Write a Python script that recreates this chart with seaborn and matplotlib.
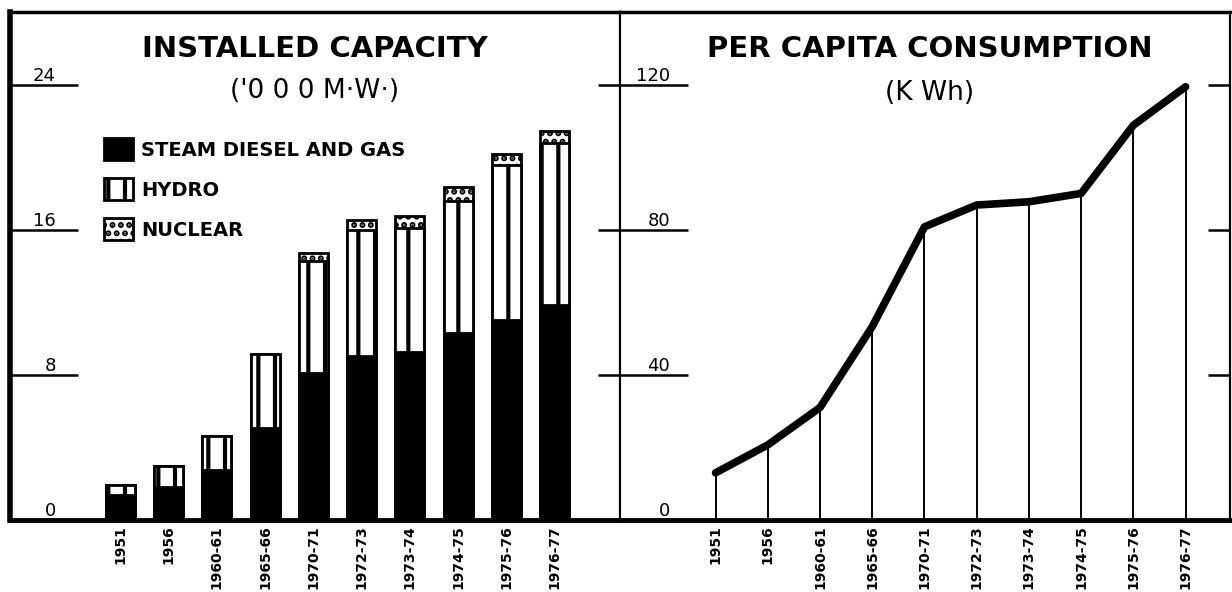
import numpy as np
import pandas as pd
import seaborn as sns
import matplotlib.pyplot as plt

# Values
periods = ['1951', '1956', '1960-61', '1965-66', '1970-71',
           '1972-73', '1973-74', '1974-75', '1975-76', '1976-77']
steam = [1.38, 1.82, 2.75, 5.06, 8.09, 9.03, 9.25, 10.29, 11.0, 11.83]   # '000 MW
hydro = [0.55, 1.15, 1.87, 4.08, 6.21, 6.93, 6.82, 7.32, 8.54, 8.97]
nuclear = [0, 0, 0, 0, 0.39, 0.55, 0.66, 0.77, 0.66, 0.66]
kwh = [13.0, 20.7, 31.0, 53.3, 80.8, 86.8, 87.7, 90.0, 108.8, 119.4]   # per capita

cap_ticks = [0, 8, 16, 24]
kwh_ticks = [0, 40, 80, 120]

sns.set_theme(style='white')
plt.rcParams['font.family'] = ['DejaVu Sans']
plt.rcParams['text.color'] = 'black'
plt.rcParams['hatch.linewidth'] = 3.0

df = pd.DataFrame({'period': periods, 'steam': steam, 'hydro': hydro, 'nuclear': nuclear})
df['steam_hydro'] = df['steam'] + df['hydro']
df['total'] = df['steam_hydro'] + df['nuclear']

fig = plt.figure(figsize=(12.32, 5.92), dpi=100)
ax1 = fig.add_axes([10 / 1232, 72 / 592, 610 / 1232, 508 / 592])
ax2 = fig.add_axes([620 / 1232, 72 / 592, 610 / 1232, 508 / 592])

# stacked bars: draw totals first, then overlay lower parts
sns.barplot(data=df, x='period', y='total', ax=ax1, color='white', saturation=1,
            edgecolor='black', linewidth=2, hatch='..', width=0.6)
sns.barplot(data=df, x='period', y='steam_hydro', ax=ax1, color='white', saturation=1,
            edgecolor='black', linewidth=2, hatch='|', width=0.6)
sns.barplot(data=df, x='period', y='steam', ax=ax1, color='black', saturation=1,
            edgecolor='black', linewidth=2, width=0.6)

# per capita line with drop lines
x_idx = np.arange(len(periods))
sns.lineplot(x=x_idx, y=kwh, ax=ax2, color='black', linewidth=5.5,
             solid_capstyle='round', solid_joinstyle='round')
ax2.vlines(x_idx, 0, kwh, color='black', linewidth=1.4)
ax2.set_xticks(x_idx, periods)

ax1.set_xlim(-2.28, 10.35)
ax1.set_ylim(0, 28)
ax2.set_xlim(-1.83, 9.85)
ax2.set_ylim(0, 140)

for ax, ticks, pad in [(ax1, cap_ticks, -33), (ax2, kwh_ticks, -36)]:
    ax.set_xlabel('')
    ax.set_ylabel('')
    ax.set_yticks(ticks)
    ax.tick_params(axis='y', direction='in', length=49, width=1.8, pad=pad,
                   labelsize=13, left=True, colors='black')
    ax.tick_params(axis='x', length=0, pad=4, labelsize=10, labelrotation=90,
                   colors='black')
    for lab in ax.get_yticklabels():
        lab.set_va('bottom')
    for lab in ax.get_xticklabels():
        lab.set_fontweight('bold')
    sec = ax.secondary_yaxis('right')
    sec.set_yticks(ticks[1:])
    sec.tick_params(direction='in', length=16, width=1.8, labelright=False,
                    right=True, colors='black')
    sec.spines['right'].set_linewidth(1.5)
    sec.spines['right'].set_color('black')
    for side, lw in [('left', 4), ('bottom', 3.5), ('top', 2.5), ('right', 1.5)]:
        ax.spines[side].set_linewidth(lw)
        ax.spines[side].set_color('black')

ax2.spines['left'].set_linewidth(1.5)

ax1.text(0.5, 0.928, 'INSTALLED CAPACITY', transform=ax1.transAxes,
         ha='center', va='center', fontsize=21, fontweight='bold')
ax1.text(0.5, 0.844, "('0 0 0 M·W·)", transform=ax1.transAxes,
         ha='center', va='center', fontsize=19)
ax2.text(0.508, 0.928, 'PER CAPITA CONSUMPTION', transform=ax2.transAxes,
         ha='center', va='center', fontsize=21, fontweight='bold')
ax2.text(0.508, 0.84, '(K Wh)', transform=ax2.transAxes,
         ha='center', va='center', fontsize=19)

handles = [ax1.containers[2], ax1.containers[1], ax1.containers[0]]
ax1.legend(handles, ['STEAM DIESEL AND GAS', 'HYDRO', 'NUCLEAR'],
           loc='upper left', bbox_to_anchor=(0.154, 0.752), frameon=False,
           borderpad=0, borderaxespad=0, handlelength=1.5, handleheight=1.4,
           handletextpad=0.4, labelspacing=0.9,
           prop={'size': 14, 'weight': 'bold'})

fig.savefig('out.png', dpi=100)
